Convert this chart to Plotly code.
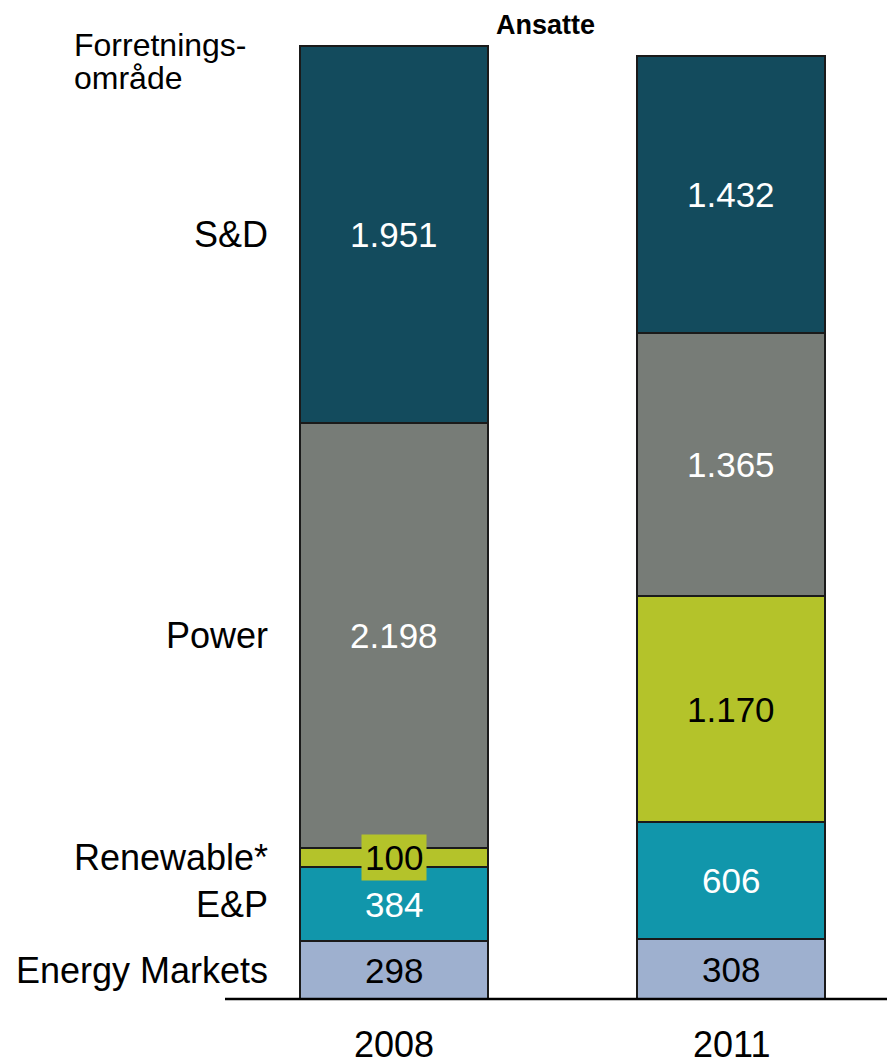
import plotly.graph_objects as go

years = ["2008", "2011"]
segments = ["Energy Markets", "E&P", "Renewable*", "Power", "S&D"]
values = {
    "Energy Markets": [298, 308],
    "E&P": [384, 606],
    "Renewable*": [100, 1170],
    "Power": [2198, 1365],
    "S&D": [1951, 1432],
}
colors = {
    "Energy Markets": "#9eb0cf",
    "E&P": "#1196ab",
    "Renewable*": "#b4c32a",
    "Power": "#777c77",
    "S&D": "#134b5d",
}
text_colors = {
    "Energy Markets": "black",
    "E&P": "white",
    "Renewable*": "black",
    "Power": "white",
    "S&D": "white",
}

FONT = "Arial, Liberation Sans, sans-serif"
OFF = 8  # page body margin compensation (px)
xpos = [0, 1]
bar_w = 0.556
c0 = 394 - OFF
spacing = 337
k = 5.175
base_px = 999 - OFF

fig = go.Figure()
for s in segments:
    fig.add_trace(go.Bar(
        x=xpos, y=values[s], name=s, width=bar_w,
        marker=dict(color=colors[s], line=dict(color="#1a1a1a", width=2)),
        hoverinfo="skip", showlegend=False,
    ))

def fmt(v):
    return f"{v:,}".replace(",", ".")

annotations = []
for i, xp in enumerate(xpos):
    base = 0
    for s in segments:
        v = values[s][i]
        mid = base + v / 2
        ann = dict(x=xp, y=mid, xref="x", yref="y", text=fmt(v), showarrow=False,
                   font=dict(family=FONT, size=35, color=text_colors[s]))
        if s == "Renewable*" and i == 0:
            ann.update(bgcolor=colors[s], borderpad=3)
        annotations.append(ann)
        base += v

# left category labels aligned with 2008 segments
base = 0
for s in segments:
    v = values[s][0]
    mid = base + v / 2
    annotations.append(dict(x=(270 - OFF) / 895, y=mid, xref="paper", yref="y", text=s,
                            showarrow=False, xanchor="right", yanchor="middle",
                            font=dict(family=FONT, size=36, color="black")))
    base += v

for i, xp in enumerate(xpos):
    annotations.append(dict(x=xp, y=-(1044 - 999) * k, xref="x", yref="y", text=years[i],
                            showarrow=False, yanchor="middle",
                            font=dict(family=FONT, size=36, color="black")))

annotations.append(dict(x=(545 - OFF) / 895, y=1, xref="paper", yref="paper",
                        text="<b>Ansatte</b>", showarrow=False, xanchor="center",
                        yanchor="top",
                        font=dict(family=FONT, size=27, color="black")))
for line, ypx in [("Forretnings-", 45), ("område", 78)]:
    annotations.append(dict(x=(72 - OFF) / 895, y=1 - (ypx - OFF) / 1063, xref="paper",
                            yref="paper", text=line, showarrow=False, xanchor="left",
                            yanchor="middle",
                            font=dict(family=FONT, size=32, color="black")))

fig.update_layout(
    width=895, height=1063,
    margin=dict(l=0, r=0, t=0, b=0),
    barmode="stack",
    plot_bgcolor="white", paper_bgcolor="white",
    xaxis=dict(range=[-c0 / spacing, (895 - c0) / spacing], visible=False, fixedrange=True),
    yaxis=dict(range=[-(1063 - base_px) * k, base_px * k], visible=False, fixedrange=True),
    annotations=annotations,
    shapes=[dict(type="line", xref="paper", yref="y", x0=(225 - OFF) / 895, x1=1, y0=0, y1=0,
                 line=dict(color="black", width=2.5))],
)

fig.write_html("out.html")
